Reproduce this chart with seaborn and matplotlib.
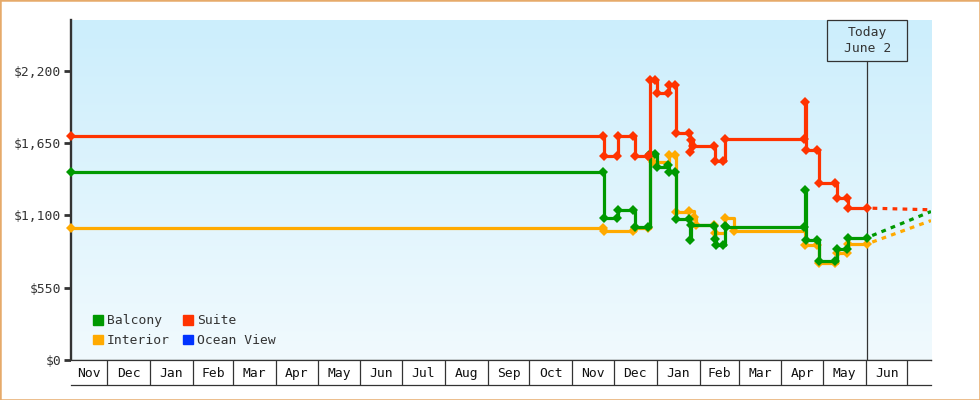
import numpy as np
import pandas as pd
import matplotlib
matplotlib.use("Agg")
import matplotlib.pyplot as plt
import matplotlib.dates as mdates
from matplotlib.patches import Rectangle, Patch
import seaborn as sns

# ---------------- data ----------------
interior_dates = ["2023-11-05", "2024-11-23", "2024-11-24", "2024-12-15", "2024-12-16",
                  "2024-12-26", "2024-12-27", "2024-12-29", "2025-01-10", "2025-01-14",
                  "2025-01-15", "2025-01-24", "2025-01-28", "2025-01-29", "2025-02-11",
                  "2025-02-12", "2025-02-19", "2025-02-26", "2025-04-18", "2025-04-27",
                  "2025-04-28", "2025-05-10", "2025-05-11", "2025-05-18", "2025-05-19",
                  "2025-06-02"]
interior_prices = [1002, 1002, 982, 982, 1007,
                   1007, 1535, 1509, 1560, 1560,
                   1129, 1136, 1091, 1028, 1028,
                   969, 1079, 980, 875, 875,
                   736, 736, 817, 817, 883,
                   883]

balcony_dates = ["2023-11-05", "2024-11-23", "2024-11-24", "2024-12-03", "2024-12-04",
                 "2024-12-15", "2024-12-16", "2024-12-26", "2024-12-27", "2024-12-31",
                 "2025-01-01", "2025-01-09", "2025-01-10", "2025-01-14", "2025-01-15",
                 "2025-01-24", "2025-01-25", "2025-01-26", "2025-02-11", "2025-02-12",
                 "2025-02-13", "2025-02-18", "2025-02-19", "2025-02-20", "2025-04-17",
                 "2025-04-18", "2025-04-19", "2025-04-27", "2025-04-28", "2025-05-10",
                 "2025-05-11", "2025-05-18", "2025-05-19", "2025-06-02"]
balcony_prices = [1429, 1429, 1083, 1083, 1142,
                  1142, 1010, 1010, 1566, 1566,
                  1464, 1479, 1429, 1429, 1071,
                  1071, 913, 1028, 1020, 919,
                  873, 873, 1020, 1010, 1010,
                  1294, 913, 913, 754, 754,
                  843, 843, 931, 931]

suite_dates = ["2023-11-05", "2024-11-23", "2024-11-24", "2024-12-03", "2024-12-04",
               "2024-12-15", "2024-12-16", "2024-12-26", "2024-12-27", "2024-12-31",
               "2025-01-01", "2025-01-09", "2025-01-10", "2025-01-14", "2025-01-15",
               "2025-01-24", "2025-01-25", "2025-01-26", "2025-01-27", "2025-02-11",
               "2025-02-12", "2025-02-18", "2025-02-19", "2025-04-17", "2025-04-18",
               "2025-04-19", "2025-04-27", "2025-04-28", "2025-05-10", "2025-05-11",
               "2025-05-18", "2025-05-19", "2025-06-02"]
suite_prices = [1701, 1701, 1553, 1553, 1701,
                1701, 1553, 1553, 2131, 2131,
                2027, 2027, 2088, 2088, 1726,
                1726, 1580, 1675, 1629, 1629,
                1515, 1515, 1680, 1680, 1962,
                1599, 1599, 1342, 1342, 1231,
                1231, 1155, 1155]

forecast_dates = ["2025-06-02", "2025-07-18"]
interior_forecast = [883, 1060]
balcony_forecast = [931, 1129]
suite_forecast = [1155, 1142]

legend_labels = ["Balcony", "Interior", "Suite", "Ocean View"]
y_ticks = [0, 550, 1100, 1650, 2200]
month_names = ["Jan", "Feb", "Mar", "Apr", "May", "Jun", "Jul", "Aug", "Sep", "Oct", "Nov", "Dec"]
today_label = "Today\nJune 2"
today_date = "2025-06-02"

# ---------------- style ----------------
sns.set_theme(style="white")
plt.rcParams['font.family'] = ['DejaVu Sans Mono', 'DejaVu Sans']
plt.rcParams['lines.scale_dashes'] = False

C_BAL = "#009900"
C_INT = "#ffaa00"
C_SUI = "#ff3300"
C_OCE = "#0033ff"
DARK = "#333333"
FS = 9.4

W, H = 980, 400
fig = plt.figure(figsize=(W / 100, H / 100), dpi=100)
fig.patch.set_facecolor("white")

L, R, T, B = 71, 931, 20, 360
pos = [L / W, 1 - B / H, (R - L) / W, (B - T) / H]

# gradient background
bg = fig.add_axes(pos, zorder=0)
top_c = np.array([204, 238, 252]) / 255
bot_c = np.array([241, 250, 254]) / 255
t = np.linspace(0, 1, 256)[:, None]
grad = (top_c[None, :] * (1 - t) + bot_c[None, :] * t)[:, None, :]
bg.imshow(grad, aspect="auto", extent=[0, 1, 0, 1])
bg.set_axis_off()

ax = fig.add_axes(pos, zorder=1)
ax.set_facecolor("none")

xmin = pd.Timestamp(interior_dates[0])
xmax = pd.Timestamp(forecast_dates[-1])

def draw(dates, prices, fdates, fprices, color):
    sns.lineplot(x=pd.to_datetime(dates), y=prices, ax=ax, color=color,
                 drawstyle="steps-post", marker="D", markersize=4.7,
                 markeredgewidth=0, linewidth=2.3, estimator=None, sort=False,
                 legend=False, clip_on=False, zorder=3)
    if fdates is not None:
        sns.lineplot(x=pd.to_datetime(fdates), y=fprices, ax=ax, color=color,
                     linewidth=2.3, estimator=None, sort=False, legend=False,
                     linestyle=(3.4, (3.4, 3.8)), dash_capstyle="butt", zorder=3)

draw(interior_dates, interior_prices, forecast_dates, interior_forecast, C_INT)
draw(balcony_dates, balcony_prices, forecast_dates, balcony_forecast, C_BAL)
draw(suite_dates, suite_prices, forecast_dates, suite_forecast, C_SUI)

ax.set_xlim(xmin, xmax)
ax.set_ylim(0, 2585)
ax.set_yticks(y_ticks)
ax.set_yticklabels([f"${v:,}" for v in y_ticks], fontsize=FS, color=DARK)
ax.tick_params(axis="y", left=True, length=5, width=2, color=DARK, pad=2)
ax.tick_params(axis="x", bottom=False, labelbottom=False)
ax.set_xlabel("")
ax.set_ylabel("")
for s in ["top", "right"]:
    ax.spines[s].set_visible(False)
ax.spines["left"].set_color(DARK)
ax.spines["left"].set_linewidth(1.7)
ax.spines["bottom"].set_color(DARK)
ax.spines["bottom"].set_linewidth(0.9)

# today marker
tnum = mdates.date2num(pd.Timestamp(today_date))
x0, x1 = mdates.date2num(xmin), mdates.date2num(xmax)
tfrac = (tnum - x0) / (x1 - x0)
box_w = 80 / (R - L)
box_h = 40.7 / (B - T)
ax.axvline(pd.Timestamp(today_date), ymin=0, ymax=1 - box_h, color=DARK, lw=0.9, zorder=2)
ax.add_patch(Rectangle((tfrac - box_w / 2, 1 - box_h), box_w, box_h, transform=ax.transAxes,
                       fill=False, ec=DARK, lw=0.9, clip_on=False, zorder=4))
ax.text(tfrac, 1 - box_h / 2, today_label, transform=ax.transAxes, ha="center", va="center",
        fontsize=FS, color=DARK, linespacing=1.35, zorder=5)

# legend
handles = [Patch(color=c, label=l) for c, l in zip([C_BAL, C_INT, C_SUI, C_OCE], legend_labels)]
leg = ax.legend(handles=handles, ncol=2, loc="lower left", bbox_to_anchor=(0.0255, 0.038),
                frameon=False, handlelength=0.78, handleheight=0.78, handletextpad=0.3,
                columnspacing=1.0, labelspacing=0.52, fontsize=FS, borderaxespad=0, borderpad=0)
for txt in leg.get_texts():
    txt.set_color(DARK)

# month box row
ax2 = fig.add_axes([L / W, 1 - 385 / H, (R - L) / W, 25 / H], zorder=1)
ax2.set_facecolor("white")
ax2.set_xlim(ax.get_xlim())
ax2.set_ylim(0, 1)
ax2.set_xticks([])
ax2.set_yticks([])
for s in ["left", "right"]:
    ax2.spines[s].set_visible(False)
for s in ["top", "bottom"]:
    ax2.spines[s].set_color(DARK)
    ax2.spines[s].set_linewidth(0.9)
starts = pd.date_range(xmin.to_period("M").to_timestamp(), xmax, freq="MS")
for i, st in enumerate(starts):
    en = st + pd.offsets.MonthBegin(1)
    a = max(mdates.date2num(st), x0)
    b = min(mdates.date2num(en), x1)
    if st > xmin:
        ax2.axvline(st, color=DARK, lw=0.9)
    if b - a >= 20:
        ax2.text((a + b) / 2, 0.47, month_names[st.month - 1], ha="center", va="center",
                 fontsize=FS, color="#111111")

# figure border
fig.patches.append(Rectangle((0, 0), 1, 1, transform=fig.transFigure, fill=False,
                             ec="#e6aa6a", lw=1.8))

fig.savefig("out.png", dpi=100)
